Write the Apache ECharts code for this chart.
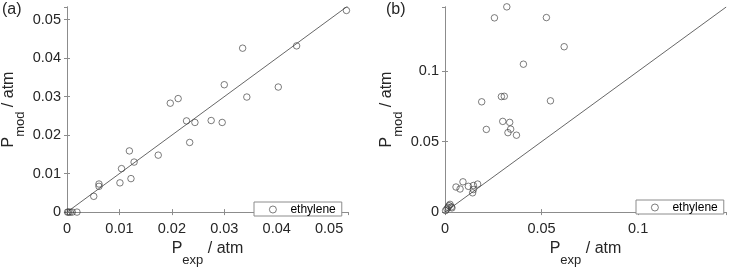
<!DOCTYPE html>
<html>
<head>
<meta charset="utf-8">
<script src="https://cdn.jsdelivr.net/npm/echarts@6/dist/echarts.min.js"></script>
<style>
  html, body { margin: 0; padding: 0; background: #fff; }
  #chart { width: 729px; height: 272px; }
</style>
</head>
<body>
<div id="chart"></div>
<script>
// panel (a): measured vs model, ethylene
let expA = [0.0533, 0.0438, 0.0335, 0.0403, 0.0300, 0.0343, 0.0197, 0.0212, 0.0228, 0.0244,
            0.0275, 0.0296, 0.0234, 0.0174, 0.0119, 0.0128, 0.0104, 0.0122, 0.0101, 0.0061,
            0.0061, 0.0051, 0.0001, 0.0003, 0.0006, 0.0010, 0.0019];
let modA = [0.0524, 0.0432, 0.0426, 0.0325, 0.0331, 0.0299, 0.0283, 0.0295, 0.0237, 0.0233,
            0.0238, 0.0233, 0.0181, 0.0148, 0.0159, 0.0130, 0.0113, 0.0087, 0.0076, 0.0073,
            0.0067, 0.0041, 0, 0, 0, 0, 0];
let xMaxA = 0.0536;
let yMaxA = 0.0533;
let stepA = 0.01;

// panel (b)
let expB = [0.0320, 0.0256, 0.0525, 0.0617, 0.0406, 0.0292, 0.0307, 0.0190, 0.0546, 0.0299,
            0.0335, 0.0340, 0.0326, 0.0370, 0.0214, 0.0057, 0.0078, 0.0093, 0.0121, 0.0147,
            0.0169, 0.0147, 0.0143, 0.0003, 0.0010, 0.0016, 0.0021, 0.0026, 0.0033, 0.0036];
let modB = [0.1457, 0.1379, 0.1381, 0.1174, 0.1050, 0.0820, 0.0822, 0.0783, 0.0790, 0.0644,
            0.0637, 0.0589, 0.0564, 0.0546, 0.0587, 0.0178, 0.0164, 0.0215, 0.0183, 0.0189,
            0.0199, 0.0160, 0.0137, 0.0011, 0.0023, 0.0034, 0.0046, 0.0055, 0.0037, 0.0030];
let xMaxB = 0.1455;
let yMaxB = 0.1456;
let stepB = 0.05;

let seriesName = 'ethylene';
let textColor = '#262626';
let boxColor = '#8c8c8c';
let font = 'Liberation Sans, Arial, sans-serif';

function pairs(xs, ys) {
  return xs.map((x, i) => [x, ys[i]]);
}

let nameRich = {
  p: { fontSize: 16, color: textColor, fontFamily: font },
  s: { fontSize: 13, color: textColor, fontFamily: font, padding: [23, 0, 0, 0] }
};

function axisName(sub) {
  return '{p|P}{s|' + sub + '}{p| / atm}';
}

// main axis with labels + mirrored axis for the box ticks
function makeAxes(gridIndex, pos, mirror, max, step, name, isY) {
  let line = { show: true, lineStyle: { color: boxColor, width: 1 } };
  let tick = { show: true, inside: true, length: 3, lineStyle: { color: boxColor } };
  let main = {
    type: 'value', gridIndex: gridIndex, position: pos, min: 0, max: max, interval: step,
    axisLine: line, axisTick: tick, splitLine: { show: false },
    axisLabel: { color: textColor, fontSize: 14.5, fontFamily: font, showMaxLabel: false,
                 margin: isY ? 6 : 9 },
    name: name, nameLocation: 'middle', nameGap: isY ? 40 : 11,
    nameRotate: isY ? 90 : 0,
    nameTextStyle: { rich: nameRich }
  };
  let other = {
    type: 'value', gridIndex: gridIndex, position: mirror, min: 0, max: max, interval: step,
    axisLine: line, axisTick: tick, splitLine: { show: false }, axisLabel: { show: false }
  };
  return [main, other];
}

function makeLegend(left, top) {
  return {
    left: left, top: top, data: [seriesName], selectedMode: false,
    padding: [1, 6, 0, 15], borderColor: boxColor, borderWidth: 1, backgroundColor: '#fff',
    itemWidth: 7, itemHeight: 7,
    itemStyle: { color: 'rgba(0,0,0,0)', borderColor: '#333', borderWidth: 0.8 },
    textStyle: { fontSize: 12, color: '#000', fontFamily: font, lineHeight: 13, padding: [0, 0, 0, 9] }
  };
}

let markerStyle = { color: 'rgba(0,0,0,0)', borderColor: '#333', borderWidth: 0.8 };

let option = {
  animation: false,
  backgroundColor: '#fff',
  title: [
    { text: '(a)', left: 2, top: 2, padding: 0,
      textStyle: { fontSize: 16, fontWeight: 'normal', color: textColor, fontFamily: font } },
    { text: '(b)', left: 386, top: 2, padding: 0,
      textStyle: { fontSize: 16, fontWeight: 'normal', color: textColor, fontFamily: font } }
  ],
  grid: [
    { left: 65, top: 7, width: 283, height: 213 },
    { left: 445, top: 7, width: 281, height: 213 }
  ],
  xAxis: [
    ...makeAxes(0, 'bottom', 'top', xMaxA, stepA, axisName('exp'), false),
    ...makeAxes(1, 'bottom', 'top', xMaxB, stepB, axisName('exp'), false)
  ],
  yAxis: [
    ...makeAxes(0, 'left', 'right', yMaxA, stepA, axisName('mod'), true),
    ...makeAxes(1, 'left', 'right', yMaxB, stepB, axisName('mod'), true)
  ],
  legend: [makeLegend(254, 202), makeLegend(636, 200)],
  series: [
    { type: 'line', name: 'parity a', xAxisIndex: 0, yAxisIndex: 0, clip: true,
      data: [[0, 0], [xMaxA, xMaxA]], showSymbol: false, silent: true,
      lineStyle: { color: '#404040', width: 0.8 } },
    { type: 'scatter', name: seriesName, xAxisIndex: 0, yAxisIndex: 0, clip: false,
      data: pairs(expA, modA), symbol: 'circle', symbolSize: 6.5, itemStyle: markerStyle },
    { type: 'line', name: 'parity b', xAxisIndex: 2, yAxisIndex: 2, clip: true,
      data: [[0, 0], [yMaxB, yMaxB]], showSymbol: false, silent: true,
      lineStyle: { color: '#404040', width: 0.8 } },
    { type: 'scatter', name: seriesName, xAxisIndex: 2, yAxisIndex: 2, clip: false,
      data: pairs(expB, modB), symbol: 'circle', symbolSize: 6.5, itemStyle: markerStyle }
  ]
};

let chart = echarts.init(document.getElementById('chart'));
chart.setOption(option);
</script>
</body>
</html>
